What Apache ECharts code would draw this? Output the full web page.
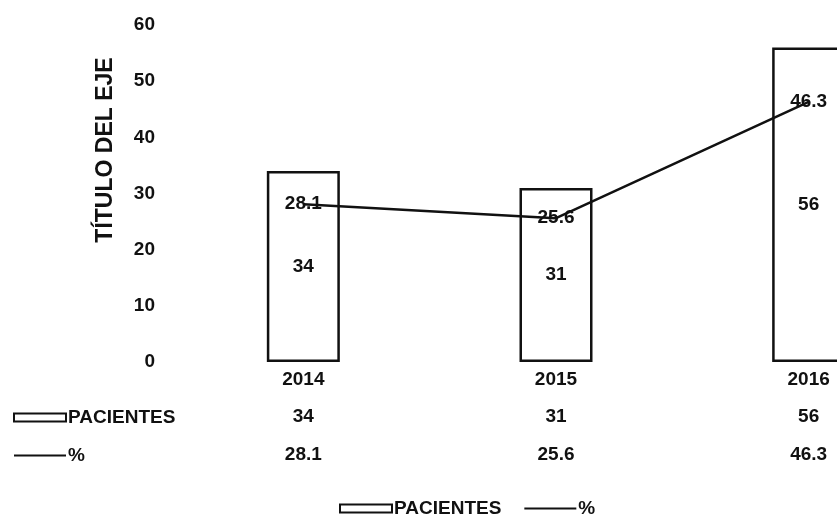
<!DOCTYPE html>
<html>
<head>
<meta charset="utf-8">
<script src="https://cdn.jsdelivr.net/npm/echarts@6/dist/echarts.min.js"></script>
<style>
  html, body { margin: 0; padding: 0; background: #fff; }
  #chart { width: 837px; height: 515px; }
</style>
</head>
<body>
<div id="chart"></div>
<script>
const years = ['2014', '2015', '2016'];
const pacientes = [34, 31, 56];
const porcentaje = [28.1, 25.6, 46.3];

const FONT = '"Liberation Sans", Arial, sans-serif';
const txt = { color: '#111', fontFamily: FONT, fontWeight: 'bold', fontSize: 19 };

const chart = echarts.init(document.getElementById('chart'));

// same legend items used twice: bottom legend + row headers of the data table
const legendItems = () => [
  { name: 'PACIENTES', icon: 'rect' },
  { name: '%', itemStyle: { color: 'transparent', borderWidth: 0 } }
];

chart.setOption({
  backgroundColor: '#fff',
  animation: false,
  textStyle: { fontFamily: FONT },
  grid: { left: 177, top: 25, width: 758, height: 337, outerBoundsMode: 'none', containLabel: false },
  legend: [
    {
      left: 334,
      top: 494,
      itemWidth: 52,
      itemHeight: 8,
      itemGap: 22,
      textStyle: { ...txt, padding: [0, 0, 0, -3] },
      data: legendItems()
    },
    {
      orient: 'vertical',
      left: 8,
      top: 403,
      itemWidth: 52,
      itemHeight: 8,
      itemGap: 19,
      selectedMode: false,
      textStyle: { ...txt, padding: [0, 0, 0, -3] },
      data: legendItems()
    }
  ],
  xAxis: {
    type: 'category',
    data: years,
    axisLine: { show: false },
    axisTick: { show: false },
    axisLabel: {
      interval: 0,
      margin: -1,
      formatter: (value, idx) =>
        `{y|${value}}\n{v|${pacientes[idx]}}\n{v|${porcentaje[idx]}}`,
      rich: {
        y: { ...txt, lineHeight: 37.5 },
        v: { ...txt, lineHeight: 37.5 }
      }
    }
  },
  yAxis: {
    type: 'value',
    min: 0,
    max: 60,
    interval: 10,
    name: 'TÍTULO DEL EJE',
    nameLocation: 'middle',
    nameRotate: 90,
    nameGap: 60,
    nameTextStyle: { ...txt, fontSize: 23, padding: [0, 0, 0, 87] },
    axisLine: { show: false },
    axisTick: { show: false },
    splitLine: { show: false },
    axisLabel: { ...txt, margin: 22 }
  },
  series: [
    {
      name: 'PACIENTES',
      type: 'bar',
      data: pacientes,
      barWidth: 73,
      itemStyle: { color: '#fff', borderColor: '#111', borderWidth: 2.5 },
      label: { show: true, position: 'inside', ...txt }
    },
    {
      name: '%',
      type: 'line',
      data: porcentaje,
      symbol: 'circle',
      symbolSize: 1,
      itemStyle: { color: '#111' },
      lineStyle: { color: '#111', width: 2.5 },
      label: { show: true, position: 'inside', ...txt }
    }
  ]
});
</script>
</body>
</html>
